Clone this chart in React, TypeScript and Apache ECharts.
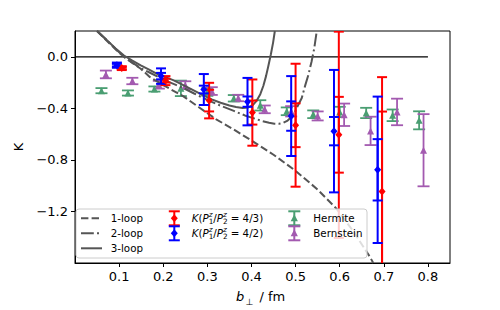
import React, { useEffect, useRef } from "react";
import * as echarts from "echarts";

// ---- data ----
const redX = [0.106, 0.205, 0.304, 0.402, 0.5, 0.598, 0.696];
const redY = [-0.088, -0.185, -0.34, -0.433, -0.531, -0.605, -1.045];
const redErrOuter = [0.015, 0.035, 0.138, 0.257, 0.477, 0.8, 0.887];
const redErrInner = [0.008, 0.015, 0.084, 0.093, 0.17, 0.294, 0.62];

const blueX = [0.095, 0.195, 0.292, 0.391, 0.49, 0.587, 0.686];
const blueY = [-0.065, -0.15, -0.254, -0.348, -0.46, -0.577, -0.877];
const blueErrOuter = [0.02, 0.06, 0.12, 0.184, 0.31, 0.475, 0.568];
const blueErrInner = [0.01, 0.025, 0.03, 0.04, 0.114, 0.11, 0.238];

const hermiteX = [0.06, 0.12, 0.18, 0.24, 0.3, 0.36, 0.42, 0.48, 0.54, 0.6, 0.66, 0.72, 0.78];
const hermiteY = [-0.263, -0.281, -0.25, -0.245, -0.273, -0.322, -0.377, -0.423, -0.446, -0.428, -0.436, -0.454, -0.493];
const hermiteErr = [0.02, 0.02, 0.02, 0.06, 0.03, 0.025, 0.04, 0.03, 0.03, 0.04, 0.04, 0.045, 0.07];

const bernX = [0.07, 0.13, 0.19, 0.25, 0.31, 0.37, 0.43, 0.49, 0.55, 0.61, 0.67, 0.73, 0.79];
const bernY = [-0.137, -0.188, -0.217, -0.22, -0.266, -0.32, -0.408, -0.423, -0.459, -0.45, -0.575, -0.428, -0.725];
const bernErr = [0.03, 0.025, 0.03, 0.03, 0.03, 0.025, 0.03, 0.04, 0.035, 0.087, 0.11, 0.103, 0.28];

const loop1X = [0.05, 0.075, 0.093, 0.111, 0.13, 0.149, 0.17, 0.2, 0.245, 0.28, 0.32, 0.36, 0.4, 0.45, 0.5, 0.55, 0.593, 0.63, 0.669, 0.676];
const loop1Y = [0.2, 0.115, 0.055, 0.0, -0.048, -0.093, -0.158, -0.22, -0.305, -0.39, -0.485, -0.565, -0.65, -0.76, -0.885, -1.03, -1.18, -1.35, -1.555, -1.6];

const loop2X = [0.05, 0.075, 0.093, 0.111, 0.13, 0.15, 0.17, 0.19, 0.208, 0.23, 0.25, 0.27, 0.291, 0.31, 0.33, 0.36, 0.385, 0.408, 0.425, 0.44, 0.452, 0.462, 0.472, 0.482, 0.49, 0.497, 0.505, 0.514, 0.522, 0.529, 0.536, 0.542, 0.548];
const loop2Y = [0.2, 0.12, 0.058, 0.0, -0.045, -0.09, -0.124, -0.158, -0.189, -0.22, -0.25, -0.285, -0.32, -0.35, -0.38, -0.42, -0.455, -0.48, -0.5, -0.512, -0.519, -0.52, -0.512, -0.495, -0.47, -0.44, -0.38, -0.32, -0.22, -0.14, -0.04, 0.06, 0.2];

const loop3X = [0.05, 0.073, 0.092, 0.111, 0.13, 0.149, 0.168, 0.186, 0.205, 0.224, 0.25, 0.27, 0.291, 0.31, 0.33, 0.35, 0.365, 0.38, 0.393, 0.403, 0.412, 0.42, 0.427, 0.433, 0.438, 0.444, 0.449, 0.453];
const loop3Y = [0.2, 0.126, 0.065, 0.01, -0.03, -0.067, -0.1, -0.132, -0.158, -0.183, -0.228, -0.263, -0.3, -0.33, -0.357, -0.378, -0.39, -0.397, -0.393, -0.375, -0.34, -0.29, -0.225, -0.15, -0.075, 0.02, 0.11, 0.2];

const zeroLineX = [0, 0.8];
const xTicks = [0.1, 0.2, 0.3, 0.4, 0.5, 0.6, 0.7, 0.8];
const yTicks = [-1.2, -0.8, -0.4, 0.0];

const FONT = "DejaVu Sans";
const CURVE = "#555555";
const RED = "#ff0000";
const BLUE = "#0000ff";
const GREEN = "#4a9e72";
const PURPLE = "#a35ab0";

function pairs(xs: number[], ys: number[]) {
  return xs.map((x, i) => [x, ys[i]]);
}

function errSeries(xs: number[], ys: number[], es: number[], color: string, capW: number, lw: number, z: number) {
  return {
    type: "custom",
    clip: true,
    silent: true,
    z,
    encode: { x: 0, y: 1 },
    data: xs.map((x, i) => [x, ys[i], es[i]]),
    renderItem: (_params: any, api: any) => {
      const x = api.value(0);
      const y = api.value(1);
      const e = api.value(2);
      const p1 = api.coord([x, y + e]);
      const p2 = api.coord([x, y - e]);
      const h = capW / 2;
      const style = { stroke: color, lineWidth: lw, fill: "none" };
      return {
        type: "group",
        children: [
          { type: "line", shape: { x1: p1[0], y1: p1[1], x2: p2[0], y2: p2[1] }, style },
          { type: "line", shape: { x1: p1[0] - h, y1: p1[1], x2: p1[0] + h, y2: p1[1] }, style },
          { type: "line", shape: { x1: p2[0] - h, y1: p2[1], x2: p2[0] + h, y2: p2[1] }, style },
        ],
      };
    },
  };
}

function lineSeries(xs: number[], ys: number[], dash: any, color: string, width: number, z: number) {
  return {
    type: "line",
    data: pairs(xs, ys),
    showSymbol: false,
    symbol: "none",
    silent: true,
    clip: true,
    z,
    lineStyle: { color, width, type: dash },
  };
}

function scatterSeries(xs: number[], ys: number[], symbol: string, size: any, color: string, z: number) {
  return {
    type: "scatter",
    data: pairs(xs, ys),
    symbol,
    symbolSize: size,
    silent: true,
    z,
    itemStyle: { color, opacity: 1 },
  };
}

const LZ = 100;

function legendErrIcon(x: number, y: number, color: string, capW: number, marker: "diamond" | "triangle") {
  const style = { stroke: color, lineWidth: 2 };
  const els: any[] = [
    { type: "line", z: LZ + 1, shape: { x1: x, y1: y - 7, x2: x, y2: y + 7 }, style },
    { type: "line", z: LZ + 1, shape: { x1: x - capW / 2, y1: y - 7, x2: x + capW / 2, y2: y - 7 }, style },
    { type: "line", z: LZ + 1, shape: { x1: x - capW / 2, y1: y + 7, x2: x + capW / 2, y2: y + 7 }, style },
  ];
  if (marker === "diamond") {
    els.push({
      type: "polygon", z: LZ + 2,
      shape: { points: [[x, y - 4], [x + 3.5, y], [x, y + 4], [x - 3.5, y]] },
      style: { fill: color },
    });
  } else {
    els.push({
      type: "polygon", z: LZ + 2,
      shape: { points: [[x, y - 4], [x + 3.6, y + 3], [x - 3.6, y + 3]] },
      style: { fill: color },
    });
  }
  return els;
}

function txt(text: string, x: number, y: number, size: number, italic = false, extra: any = {}) {
  return {
    type: "text",
    z: LZ + 1,
    x,
    y,
    style: {
      text,
      fontFamily: FONT,
      fontSize: size,
      fontStyle: italic ? "italic" : "normal",
      fill: "#000",
      align: "left",
      verticalAlign: "middle",
      ...extra,
    },
  };
}

function kLabel(x0: number, y: number, ratio: string) {
  const fs = 10.3;
  const ss = 7.3;
  return [
    txt("K", x0, y, fs, true),
    txt("(", x0 + 6.9, y, fs),
    txt("P", x0 + 10.8, y, fs, true),
    txt("z", x0 + 17.0, y - 4, ss, true),
    txt("1", x0 + 17.0, y + 3.5, ss),
    txt("/", x0 + 21.6, y, fs),
    txt("P", x0 + 25.0, y, fs, true),
    txt("z", x0 + 31.2, y - 4, ss, true),
    txt("2", x0 + 31.2, y + 3.5, ss),
    txt("= " + ratio + ")", x0 + 39.0, y, fs),
  ];
}

export default function App() {
  const ref = useRef<HTMLDivElement>(null);

  useEffect(() => {
    if (!ref.current) return;
    const chart = echarts.init(ref.current, undefined, { renderer: "svg" });

    const r1 = 218.3, r2 = 233.3, r3 = 248.3;
    const legendEls: any[] = [
      {
        type: "rect", z: LZ,
        shape: { x: 76, y: 209, width: 291, height: 49, r: 3 },
        style: { fill: "rgba(255,255,255,0.8)", stroke: "#cccccc", lineWidth: 1 },
      },
      { type: "line", z: LZ + 1, shape: { x1: 81, y1: r1, x2: 102, y2: r1 }, style: { stroke: CURVE, lineWidth: 2, lineDash: [7.4, 3.2] } },
      { type: "line", z: LZ + 1, shape: { x1: 81, y1: r2, x2: 102, y2: r2 }, style: { stroke: CURVE, lineWidth: 2, lineDash: [12.8, 3.2, 2, 3.2] } },
      { type: "line", z: LZ + 1, shape: { x1: 81, y1: r3, x2: 102, y2: r3 }, style: { stroke: CURVE, lineWidth: 2 } },
      txt("1-loop", 110.7, r1, 10.3),
      txt("2-loop", 110.7, r2, 10.3),
      txt("3-loop", 110.7, r3, 10.3),
      ...legendErrIcon(174.3, r1, RED, 11, "diamond"),
      ...legendErrIcon(174.3, r2, BLUE, 11, "diamond"),
      ...kLabel(191.7, r1, "4/3"),
      ...kLabel(191.7, r2, "4/2"),
      ...legendErrIcon(294.3, r1, GREEN, 12, "triangle"),
      ...legendErrIcon(294.3, r2, PURPLE, 12, "triangle"),
      txt("Hermite", 313.3, r1, 10.3),
      txt("Bernstein", 313.3, r2, 10.3),
    ];

    const axisTitles: any[] = [
      {
        type: "text",
        x: 18,
        y: 147,
        rotation: Math.PI / 2,
        style: { text: "K", fontFamily: FONT, fontSize: 13, fill: "#000", align: "center", verticalAlign: "middle" },
      },
      { ...txt("b", 236, 296.5, 13, true), z: 1 },
      { ...txt("\u22a5", 245.5, 301.5, 9), z: 1 },
      { ...txt("/ fm", 259.5, 296.5, 13), z: 1 },
    ];

    const fmt = (v: number) => (v < 0 ? "\u2212" : "") + Math.abs(v).toFixed(1);

    chart.setOption({
      animation: false,
      backgroundColor: "#ffffff",
      grid: {
        left: 75,
        right: 50,
        top: 31,
        bottom: 47,
        show: true,
        borderColor: "#000",
        borderWidth: 1,
        backgroundColor: "transparent",
        containLabel: false,
      },
      xAxis: {
        type: "value",
        min: 0,
        max: 0.85,
        interval: 0.1,
        splitLine: { show: false },
        axisLine: { show: true, onZero: false, lineStyle: { color: "#000", width: 1 } },
        axisTick: { show: true, inside: false, length: 4, customValues: xTicks, lineStyle: { color: "#000" } },
        axisLabel: {
          customValues: xTicks,
          formatter: fmt,
          fontFamily: FONT,
          fontSize: 13,
          color: "#000",
          margin: 7,
        },
      },
      yAxis: {
        type: "value",
        min: -1.6,
        max: 0.2,
        interval: 0.4,
        splitLine: { show: false },
        axisLine: { show: true, onZero: false, lineStyle: { color: "#000", width: 1 } },
        axisTick: { show: true, inside: false, length: 4, customValues: yTicks, lineStyle: { color: "#000" } },
        axisLabel: {
          customValues: yTicks,
          formatter: fmt,
          fontFamily: FONT,
          fontSize: 13,
          color: "#000",
          margin: 7,
        },
      },
      graphic: [...axisTitles, ...legendEls],
      series: [
        lineSeries(zeroLineX, [0, 0], "solid", "#000", 1.3, 1),
        errSeries(hermiteX, hermiteY, hermiteErr, GREEN, 12, 1.8, 2),
        scatterSeries(hermiteX, hermiteY, "triangle", 7, GREEN, 3),
        errSeries(bernX, bernY, bernErr, PURPLE, 12, 1.8, 2),
        scatterSeries(bernX, bernY, "triangle", 7, PURPLE, 3),
        lineSeries(loop1X, loop1Y, [7.4, 3.2], CURVE, 2, 4),
        lineSeries(loop2X, loop2Y, [12.8, 3.2, 2, 3.2], CURVE, 2, 4),
        lineSeries(loop3X, loop3Y, "solid", CURVE, 2, 4),
        errSeries(redX, redY, redErrOuter, RED, 10, 2, 5),
        errSeries(redX, redY, redErrInner, RED, 10, 2, 5),
        scatterSeries(redX, redY, "diamond", [7, 8], RED, 6),
        errSeries(blueX, blueY, blueErrOuter, BLUE, 10, 2, 5),
        errSeries(blueX, blueY, blueErrInner, BLUE, 10, 2, 5),
        scatterSeries(blueX, blueY, "diamond", [7, 8], BLUE, 6),
      ],
    });

    return () => chart.dispose();
  }, []);

  return (
    <div
      ref={ref}
      style={{ position: "fixed", left: 0, top: 0, width: 500, height: 310, background: "#fff" }}
    />
  );
}
